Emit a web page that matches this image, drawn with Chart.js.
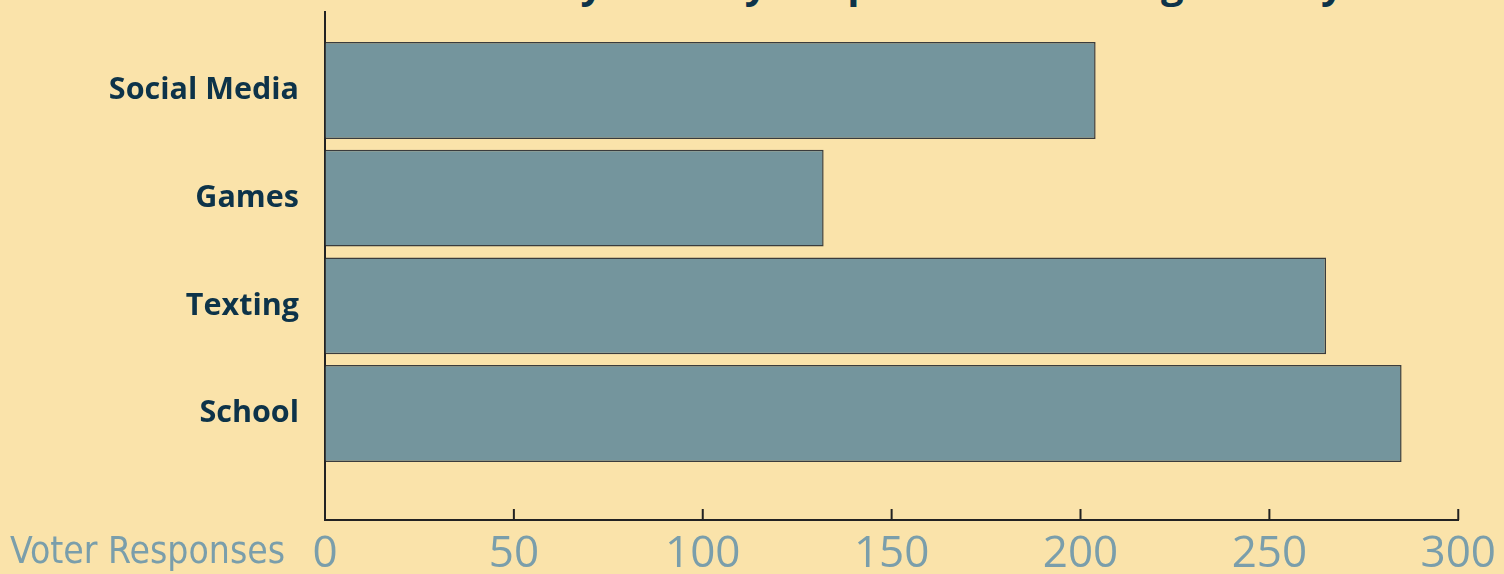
<!DOCTYPE html>
<html>
<head>
<meta charset="utf-8">
<script src="https://cdn.jsdelivr.net/npm/chart.js@4.4.1/dist/chart.umd.min.js"></script>
<style>
  html, body { margin: 0; padding: 0; background: #fae3aa; }
  #wrap { position: relative; width: 1504px; height: 574px; overflow: hidden; }
  #title {
    position: absolute; left: 0; width: 1504px; top: -45px;
    text-align: center; white-space: nowrap;
    font: bold 40px 'Open Sans', sans-serif; color: #0d3349;
    padding-left: 262px; box-sizing: border-box;
  }
  canvas { position: absolute; left: 0; top: 0; }
</style>
</head>
<body>
<div id="wrap">
  <div id="title">What do you use your phone for during the day?</div>
  <canvas id="chart" width="1504" height="574"></canvas>
</div>
<script>
const categories = ['Social Media', 'Games', 'Texting', 'School'];
const responses = [204, 132, 265, 285];
const tickValues = [0, 50, 100, 150, 200, 250, 300];

const navy = '#0d3349';
const steel = '#7a9eab';
const axisColor = '#222222';

// ticks point up into the plot, and the axis name sits left of the numbers
const axisExtras = {
    id: 'axisExtras',
    afterDraw(chart) {
        const ctx = chart.ctx;
        const x = chart.scales.x;
        const bottom = chart.chartArea.bottom;
        ctx.save();
        ctx.strokeStyle = axisColor;
        ctx.lineWidth = 2;
        x.ticks.forEach(t => {
            const px = x.getPixelForValue(t.value);
            ctx.beginPath();
            ctx.moveTo(px, bottom);
            ctx.lineTo(px, bottom - 11);
            ctx.stroke();
        });
        ctx.fillStyle = steel;
        ctx.font = '37px "DejaVu Sans Condensed", "Open Sans", sans-serif';
        ctx.textAlign = 'left';
        ctx.textBaseline = 'middle';
        ctx.fillText('Voter Responses', 10, bottom + 33);
        ctx.restore();
    }
};

function drawChart() {
    new Chart(document.getElementById('chart'), {
        type: 'bar',
        data: {
            datasets: [{
                data: responses.map((v, i) => ({ x: v, y: i })),
                backgroundColor: '#74959d',
                borderColor: '#3a3c3d',
                borderWidth: 1.5,
                categoryPercentage: 1,
                barPercentage: 0.9
            }]
        },
        options: {
            indexAxis: 'y',
            responsive: false,
            animation: false,
            layout: { padding: { top: 12, right: 45, left: 0, bottom: 0 } },
            plugins: { legend: { display: false }, tooltip: { enabled: false } },
            scales: {
                x: {
                    type: 'linear',
                    min: 0,
                    max: 300,
                    afterBuildTicks: s => { s.ticks = tickValues.map(v => ({ value: v })); },
                    afterFit: s => { s.height = 54; },
                    grid: { drawOnChartArea: false, drawTicks: false },
                    border: { display: true, color: axisColor, width: 2 },
                    ticks: {
                        color: steel,
                        padding: 8,
                        maxRotation: 0,
                        font: { family: "'Open Sans', sans-serif", size: 44 }
                    }
                },
                y: {
                    type: 'linear',
                    reverse: true,
                    offset: false,
                    min: -0.729,
                    max: 3.989,
                    afterBuildTicks: s => { s.ticks = categories.map((c, i) => ({ value: i })); },
                    afterFit: s => { s.width = 325; },
                    grid: { display: true, drawOnChartArea: false, drawTicks: true, tickLength: 26, color: 'rgba(0,0,0,0)' },
                    border: { display: true, color: axisColor, width: 2 },
                    ticks: {
                        color: navy,
                        padding: 0,
                        callback: v => categories[v],
                        font: { family: "'Open Sans', sans-serif", size: 30.5, weight: 'bold', lineHeight: 0.7 }
                    }
                }
            }
        },
        plugins: [axisExtras]
    });
}

// canvas text does not wait for local fonts, so load them first
Promise.all([
    document.fonts.load('37px "DejaVu Sans Condensed"'),
    document.fonts.load('44px "Open Sans"'),
    document.fonts.load('bold 30px "Open Sans"')
]).then(drawChart, drawChart);
</script>
</body>
</html>
